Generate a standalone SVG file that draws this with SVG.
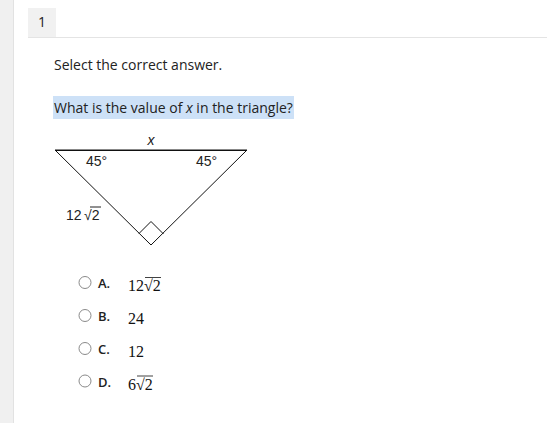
<svg xmlns="http://www.w3.org/2000/svg" width="547" height="423" viewBox="0 0 547 423">
<style>
.ui{font-family:"Open Sans","Liberation Sans",sans-serif;font-size:14px;fill:#222}
.lab{font-family:"Liberation Sans",Arial,sans-serif;font-size:14px;fill:#222}
.opt{font-family:"Open Sans","Liberation Sans",sans-serif;font-size:13px;font-weight:600;fill:#222}
.val{font-family:"Liberation Serif","Times New Roman",serif;font-size:16px;fill:#111}
.radio{fill:#fff;stroke:#8a8a8a;stroke-width:1}
</style>
<rect x="0" y="0" width="547" height="423" fill="#fff"/>
<rect x="0" y="0" width="13" height="423" fill="#f0f0f0"/>
<line x1="13.5" y1="0" x2="13.5" y2="423" stroke="#e2e2e2"/>
<rect x="28" y="8" width="28" height="29" fill="#f1f1f1"/>
<line x1="28" y1="37.5" x2="547" y2="37.5" stroke="#e4e4e4"/>
<text class="ui" x="38" y="27">1</text>
<text class="ui" x="54" y="70">Select the correct answer.</text>
<rect x="53" y="96" width="241" height="23" fill="#cde1f7"/>
<text class="ui" x="54" y="113">What is the value of <tspan font-style="italic">x</tspan> in the triangle?</text>
<g id="triangle">
<polygon points="55,150 247,150 151,245" fill="none" stroke="#111" stroke-width="1"/>
<line x1="55" y1="150.5" x2="247" y2="150.5" stroke="#111" stroke-width="1"/>
<polyline points="139,233.5 151,221.5 163.5,234" fill="none" stroke="#111" stroke-width="1"/>
</g>
<g id="labels">
<text class="lab" x="151" y="145" text-anchor="middle" font-style="italic">x</text>
<text class="lab" x="86" y="166">45°</text>
<text class="lab" x="196" y="166">45°</text>
<text class="lab" x="66" y="220">12</text>
<text class="lab" x="84" y="220">√2</text>
<line x1="90" y1="207" x2="101" y2="207" stroke="#222" stroke-width="1"/>
</g>
<g id="optA">
<circle class="radio" cx="85" cy="282.5" r="6"/>
<text class="opt" x="98" y="288">A.</text>
<text class="val" x="128" y="291">12√2</text>
<line x1="145" y1="277.5" x2="161" y2="277.5" stroke="#111" stroke-width="0.8"/>
</g>
<g id="optB">
<circle class="radio" cx="85" cy="315.5" r="6"/>
<text class="opt" x="98" y="321">B.</text>
<text class="val" x="128" y="324">24</text>
</g>
<g id="optC">
<circle class="radio" cx="85" cy="348.5" r="6"/>
<text class="opt" x="98" y="354">C.</text>
<text class="val" x="128" y="357">12</text>
</g>
<g id="optD">
<circle class="radio" cx="85" cy="381" r="6"/>
<text class="opt" x="98" y="387">D.</text>
<text class="val" x="128" y="390">6√2</text>
<line x1="137" y1="376" x2="153" y2="376" stroke="#111" stroke-width="0.8"/>
</g>
</svg>
